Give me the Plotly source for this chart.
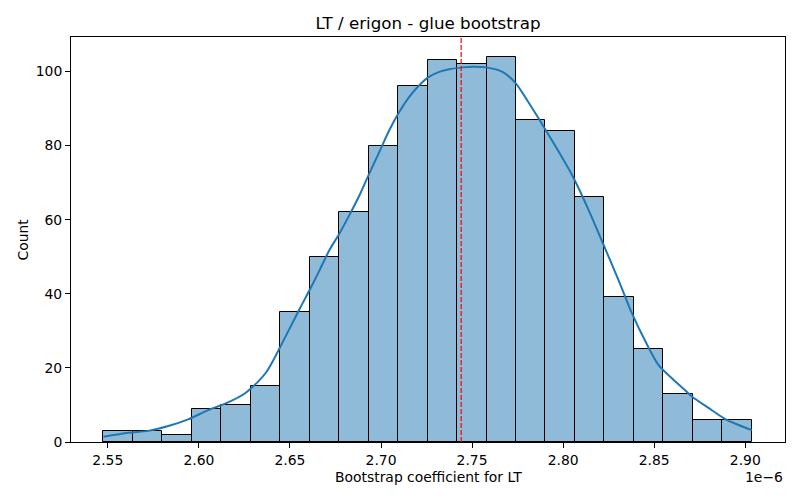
import plotly.graph_objects as go

# histogram bins (x in units of 1e-6)
bin_start = 2.5476
bin_width = 0.01618
counts = [3, 3, 2, 9, 10, 15, 35, 50, 62, 80, 96, 103, 102, 104, 87, 84, 66, 39, 25, 13, 6, 6]

# kde curve (scaled to counts)
kde_x = [2.5476, 2.5613, 2.5722, 2.5832, 2.5941, 2.6051, 2.6160, 2.6252, 2.6325, 2.6371,
         2.6407, 2.6443, 2.6500, 2.6555, 2.6608, 2.6663, 2.6717, 2.6772, 2.6827, 2.6882,
         2.6936, 2.6991, 2.7046, 2.7101, 2.7156, 2.7210, 2.7265, 2.7320, 2.7375, 2.7447,
         2.7510, 2.7576, 2.7667, 2.7740, 2.7813, 2.7904, 2.7976, 2.8058, 2.8140, 2.8222,
         2.8304, 2.8378, 2.8452, 2.8523, 2.8597, 2.8671, 2.8707, 2.8798, 2.8890, 2.8963,
         2.9036]
kde_y = [1.4, 2.5, 3.0, 4.3, 6.1, 8.6, 10.7, 13.1, 16.3, 18.9,
         21.9, 25.3, 30.8, 36.1, 41.0, 46.4, 51.8, 56.3, 61.3, 66.6,
         72.5, 78.3, 84.2, 89.1, 93.2, 96.3, 98.6, 99.9, 100.6, 101.1,
         101.3, 101.1, 99.9, 96.8, 91.4, 84.2, 78.3, 71.2, 62.6, 53.2,
         43.7, 34.7, 27.1, 20.8, 17.2, 13.9, 12.3, 9.2, 6.2, 4.6,
         3.2]

mean_val = 2.7440

x_ticks = [2.55, 2.60, 2.65, 2.70, 2.75, 2.80, 2.85, 2.90]
y_ticks = [0, 20, 40, 60, 80, 100]

centers = [bin_start + bin_width * (i + 0.5) for i in range(len(counts))]

font = "DejaVu Sans, sans-serif"

fig = go.Figure()
fig.add_bar(x=centers, y=counts, width=bin_width,
            marker_color="rgba(31,119,180,0.5)",
            marker_line_color="black", marker_line_width=1)
fig.add_scatter(x=kde_x, y=kde_y, mode="lines", line_shape="spline",
                line=dict(color="#1f77b4", width=2, smoothing=0.8))

fig.add_shape(type="line", xref="x", yref="paper", x0=mean_val, x1=mean_val, y0=0, y1=1,
              line=dict(color="red", width=1.2, dash="5px,2px"))

# the page body adds ~8px offset, margins compensate
fig.update_layout(
    width=800, height=500,
    margin=dict(l=63, r=23, t=29, b=66),
    paper_bgcolor="white", plot_bgcolor="white",
    showlegend=False, bargap=0,
    font=dict(family=font, size=13.9, color="black"),
    title=dict(text="LT / erigon - glue bootstrap", x=0.525, xanchor="center",
               y=0.97, yanchor="middle", font=dict(size=16.7)),
)
fig.update_xaxes(range=[2.5298, 2.9218], tickvals=x_ticks,
                 ticktext=["%.2f" % v for v in x_ticks],
                 showline=True, mirror=True, linecolor="black", linewidth=1,
                 ticks="outside", ticklen=5, tickcolor="black", showgrid=False, zeroline=False)
fig.update_yaxes(range=[0, 109.3], tickvals=y_ticks,
                 showline=True, mirror=True, linecolor="black", linewidth=1,
                 ticks="outside", ticklen=5, tickcolor="black", showgrid=False, zeroline=False)

fig.add_annotation(text="Bootstrap coefficient for LT", xref="paper", yref="paper",
                   x=0.5, y=-0.0864, yanchor="middle", showarrow=False)
fig.add_annotation(text="Count", xref="paper", yref="paper", x=-0.0686, y=0.5,
                   textangle=-90, xanchor="center", showarrow=False)
fig.add_annotation(text="1e\u22126", xref="paper", yref="paper", x=1, y=-0.0864,
                   xanchor="right", yanchor="middle", showarrow=False)

fig.write_html("out.html")
